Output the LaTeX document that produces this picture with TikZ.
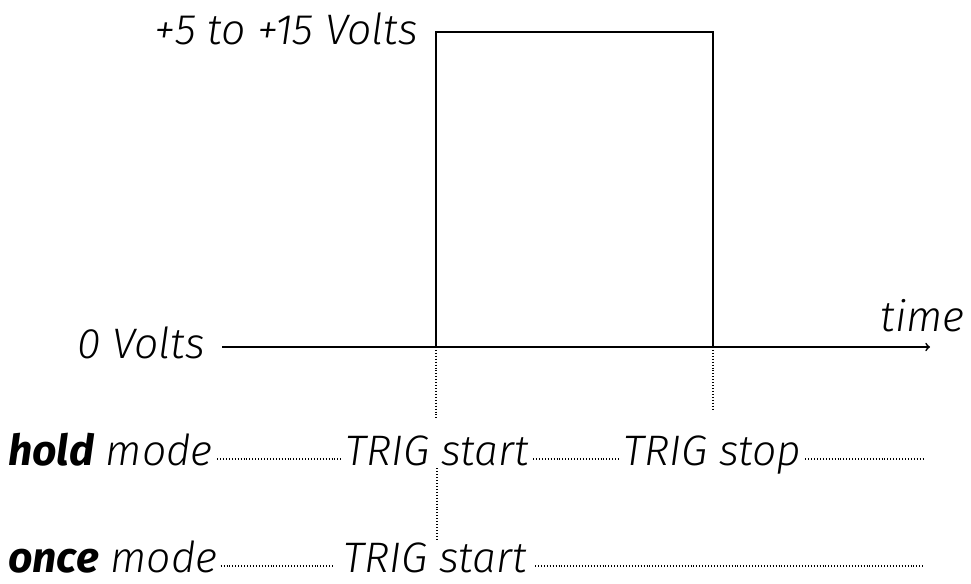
\documentclass[tikz,border=0pt]{standalone}
\usepackage{fontspec}
\setmainfont{Fira Sans Light}[ItalicFont={Fira Sans Light Italic},BoldItalicFont={Fira Sans Bold Italic},BoldFont={Fira Sans Bold}]
\begin{document}
\begin{tikzpicture}[x=0.75pt,y=-0.75pt]
            \tikzstyle{lbl}=[inner sep=0pt,font=\fontsize{32}{38}\selectfont\itshape]
            \tikzset{edge/.style = {->, line width=1.3pt}}
            \tikzset{dots/.style = {line width=0.9pt, dash pattern=on 0.6pt off 1.6pt}}
            \useasboundingbox (0,0) rectangle (971,584);
            \coordinate (o) at (222,347);
            \coordinate (e) at (930,347);
            \coordinate (rise) at (436,347);
            \coordinate (fall) at (713,347);
            \coordinate (rtop) at (436,32);
            \coordinate (ftop) at (713,32);
            \node[lbl,anchor=base east] (high) at (418,45) {+5 to +15 Volts};
            \node[lbl,anchor=base east] (low) at (205,359) {0 Volts};
            \node[lbl,anchor=base east] (t) at (965,332) {time};
            \node[lbl,anchor=base west] (hold) at (8,465) {\textbf{hold} mode};
            \node[lbl,anchor=base] (hstart) at (437,465) {TRIG start};
            \node[lbl,anchor=base] (hstop) at (712,465) {TRIG stop};
            \coordinate (hend) at (925,459);
            \node[lbl,anchor=base west] (once) at (8,572) {\textbf{once} mode};
            \node[lbl,anchor=base] (ostart) at (435,572) {TRIG start};
            \coordinate (oend) at (925,566);
            \draw[edge] (o) -> (e);
            \draw[line width=0.9pt] (rise) -- (rtop) -- (ftop) -- (fall);
            \draw[dots] (rise) -- ++(0,73);
            \draw[dots] (fall) -- ++(0,63);
            \draw[dots] ([xshift=3pt,yshift=4.5pt]hold.base east) -- ([xshift=-2pt,yshift=4.5pt]hstart.base west);
            \draw[dots] ([xshift=3pt,yshift=4.5pt]hstart.base east) -- ([xshift=-3pt,yshift=4.5pt]hstop.base west);
            \draw[dots] ([xshift=3pt,yshift=4.5pt]hstop.base east) -- (hend);
            \draw[dots] ([yshift=-2pt]hstart.south) -- ([yshift=2pt]hstart.south |- ostart.north);
            \draw[dots] ([xshift=2pt,yshift=4.5pt]once.base east) -- ([xshift=-6pt,yshift=4.5pt]ostart.base west);
            \draw[dots] ([xshift=6pt,yshift=4.5pt]ostart.base east) -- (oend);
        \end{tikzpicture}
\end{document}
